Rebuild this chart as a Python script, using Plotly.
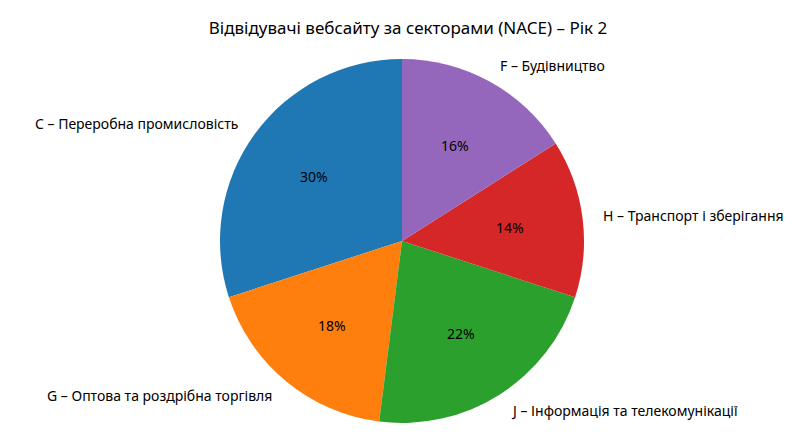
import numpy as np
import plotly.graph_objects as go

labels = ["C – Переробна промисловість", "G – Оптова та роздрібна торгівля",
          "J – Інформація та телекомунікації", "H – Транспорт і зберігання",
          "F – Будівництво"]
values = [30, 18, 22, 14, 16]
colors = ["#1f77b4", "#ff7f0e", "#2ca02c", "#d62728", "#9467bd"]
title = "Відвідувачі вебсайту за секторами (NACE) – Рік 2"

W, H = 800, 444
cx, cy, r = 394, 233, 182
tot = sum(values)
fig = go.Figure(go.Pie(
    labels=labels, values=values, sort=False, direction="counterclockwise",
    rotation=-360 * values[0] / tot, marker=dict(colors=colors), textinfo="none",
    hoverinfo="label+percent", showlegend=False,
    domain=dict(x=[(cx - r) / W, (cx + r) / W], y=[(H - cy - r) / H, (H - cy + r) / H]),
))

start = 90.0
anns = []
for lab, v in zip(labels, values):
    ang = start + 360 * v / tot / 2
    start += 360 * v / tot
    t = np.radians(ang)
    c, s = np.cos(t), np.sin(t)
    anns.append(dict(x=(cx + 1.1 * r * c) / W, y=(H - cy + 1.1 * r * s) / H,
                     xref="paper", yref="paper", text=lab, showarrow=False,
                     xanchor="left" if c > 0 else "right", yanchor="middle",
                     font=dict(size=14, color="black")))
    anns.append(dict(x=(cx + 0.6 * r * c) / W, y=(H - cy + 0.6 * r * s) / H,
                     xref="paper", yref="paper", text=f"{v / tot * 100:.0f}%", showarrow=False,
                     xanchor="center", yanchor="middle", font=dict(size=14, color="black")))

fig.update_layout(
    width=W, height=H, margin=dict(l=0, r=0, t=0, b=0),
    paper_bgcolor="white", font=dict(family="Noto Sans"),
    title=dict(text=title, x=0.5, xanchor="center", y=1 - 20 / H, yanchor="middle",
               font=dict(size=17, color="black")),
    annotations=anns,
)
fig.write_html("out.html")
